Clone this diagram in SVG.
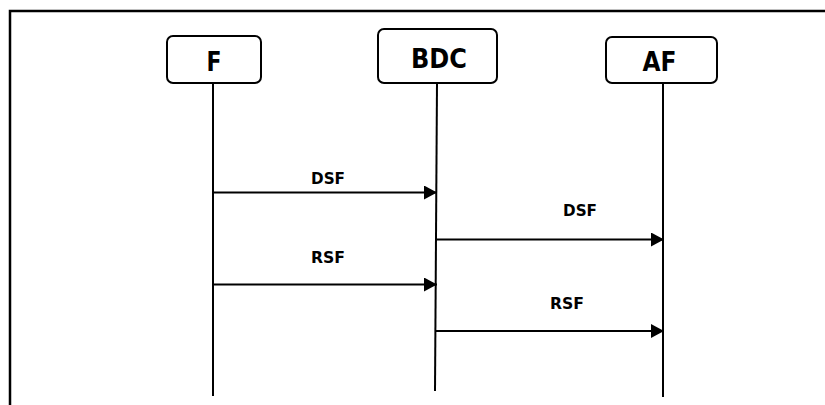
<svg xmlns="http://www.w3.org/2000/svg" width="825" height="405" viewBox="0 0 825 405">
<defs>
<style>
.box{fill:#fff;stroke:#000;stroke-width:2}
.life{stroke:#000;stroke-width:2;fill:none}
.msg{stroke:#000;stroke-width:2;fill:none;marker-end:url(#ah)}
.nt{font-family:"DejaVu Sans",Verdana,sans-serif;font-weight:bold;font-size:27px;text-anchor:middle;fill:#000}
.lt{font-family:"DejaVu Sans",Verdana,sans-serif;font-weight:bold;font-size:16px;text-anchor:middle;fill:#000}
</style>
<marker id="ah" markerWidth="13" markerHeight="14" refX="13" refY="7" orient="auto" markerUnits="userSpaceOnUse">
<path d="M0,0 L13,7 L0,14 Z" fill="#000"/>
</marker>
</defs>
<rect width="825" height="405" fill="#fff"/>
<path d="M10,405 V11 H825" fill="none" stroke="#000" stroke-width="2.5"/>
<g id="lifelines">
<line class="life" x1="213" y1="83" x2="213" y2="396"/>
<line class="life" x1="437" y1="83" x2="435" y2="391"/>
<line class="life" x1="663" y1="83" x2="663" y2="397"/>
</g>
<g id="node-F">
<rect class="box" x="167" y="36" width="94" height="47" rx="6"/>
<text class="nt" x="214" y="70.5" textLength="15" lengthAdjust="spacingAndGlyphs">F</text>
</g>
<g id="node-BDC">
<rect class="box" x="378" y="29" width="119" height="54" rx="6"/>
<text class="nt" x="439" y="67.5" textLength="56" lengthAdjust="spacingAndGlyphs">BDC</text>
</g>
<g id="node-AF">
<rect class="box" x="606" y="37" width="111" height="46" rx="6"/>
<text class="nt" x="659.5" y="70.5" textLength="34" lengthAdjust="spacingAndGlyphs">AF</text>
</g>
<g id="connectors">
<line class="msg" x1="213" y1="192.5" x2="437" y2="192.5"/>
<text class="lt" x="328" y="184" textLength="34" lengthAdjust="spacingAndGlyphs">DSF</text>
<line class="msg" x1="437" y1="239.5" x2="664" y2="239.5"/>
<text class="lt" x="580" y="215.5" textLength="34" lengthAdjust="spacingAndGlyphs">DSF</text>
<line class="msg" x1="213" y1="284.5" x2="437" y2="284.5"/>
<text class="lt" x="328" y="262.5" textLength="34" lengthAdjust="spacingAndGlyphs">RSF</text>
<line class="msg" x1="436" y1="331" x2="664" y2="331"/>
<text class="lt" x="567" y="308.5" textLength="34" lengthAdjust="spacingAndGlyphs">RSF</text>
</g>
</svg>
